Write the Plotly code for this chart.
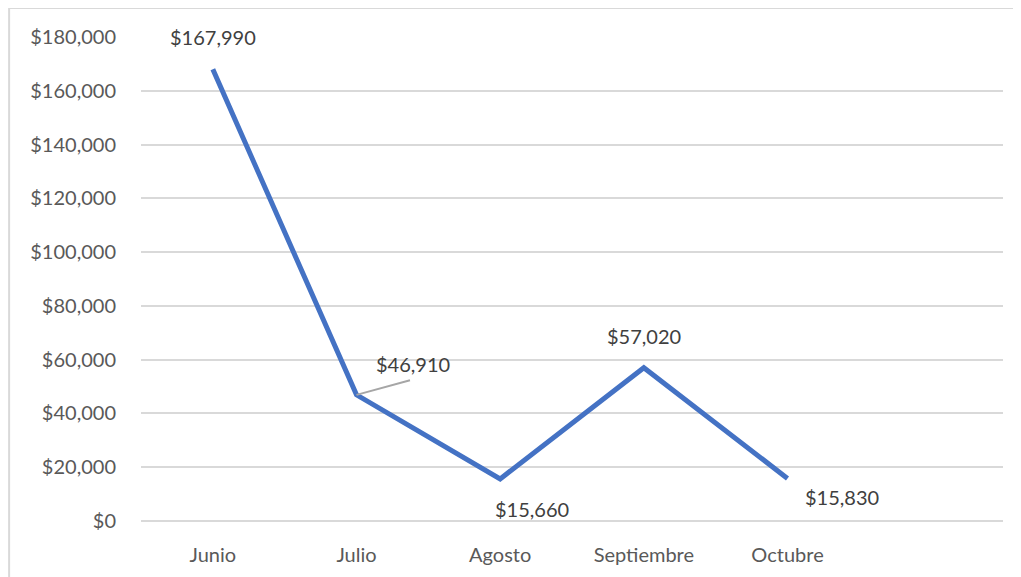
import plotly.graph_objects as go

months = ["Junio", "Julio", "Agosto", "Septiembre", "Octubre"]
ventas = [167990, 46910, 15660, 57020, 15830]
y_ticks = list(range(0, 180001, 20000))
y_tick_text = ["$" + format(v, ",") for v in y_ticks]

# label offsets (px) per point, Excel-like placement
label_dx = [0, 56, 32, 0, 54]
label_dy = [32, 31, -30, 32, -19]

LINE = "#4472C4"
FONT = "Lato"

fig = go.Figure()
fig.add_trace(go.Scatter(
    x=list(range(len(months))),
    y=ventas,
    mode="lines",
    line=dict(color=LINE, width=5),
    hoverinfo="skip",
    showlegend=False,
))

for i, (m, v) in enumerate(zip(months, ventas)):
    txt = "$" + format(v, ",")
    fig.add_annotation(x=i, y=v, text=txt, showarrow=False,
                       xshift=label_dx[i], yshift=label_dy[i],
                       font=dict(family=FONT, size=20, color="#404040"))

# leader line for the Julio label
fig.add_annotation(x=1, y=ventas[1], text="", showarrow=True, arrowhead=0,
                   arrowwidth=2, arrowcolor="#a6a6a6", ax=55, ay=-15,
                   standoff=0, startstandoff=0)

# chart border (top and left edges visible)
fig.add_shape(type="path", xref="paper", yref="paper",
              path="M -0.153 -0.2 L -0.153 1.06 L 1.05 1.06",
              line=dict(color="#d9d9d9", width=2))

# page body has an 8px margin, so margins are trimmed to compensate
fig.update_layout(
    width=1021, height=577,
    margin=dict(l=133, r=26, t=29, b=64),
    plot_bgcolor="white",
    paper_bgcolor="white",
    font=dict(family=FONT, size=20, color="#595959"),
    xaxis=dict(
        range=[-0.5, 5.5],
        tickmode="array",
        tickvals=list(range(len(months))),
        ticktext=months,
        showgrid=False,
        zeroline=False,
        showline=False,
        ticks="outside", ticklen=16, tickcolor="rgba(0,0,0,0)",
    ),
    yaxis=dict(
        range=[0, 180000],
        tickmode="array",
        tickvals=y_ticks,
        ticktext=y_tick_text,
        showgrid=True, gridcolor="#d9d9d9", gridwidth=2,
        zeroline=True, zerolinecolor="#d9d9d9", zerolinewidth=2,
        showline=False,
        ticks="outside", ticklen=20, tickcolor="rgba(0,0,0,0)",
    ),
)

fig.write_html("out.html")
